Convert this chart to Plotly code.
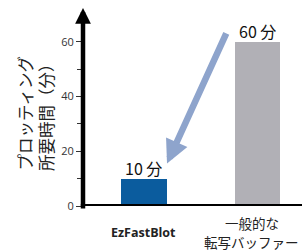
import plotly.graph_objects as go

categories = ["EzFastBlot", "一般的な<br>転写バッファー"]
minutes = [10, 60]
bar_colors = ["#0b5c9e", "#b1b0b6"]
value_unit = "分"
y_title = "プロッティング<br>所要時間（分）"
y_ticks = [0, 20, 40, 60]

FONT = "Open Sans, Noto Sans CJK JP, sans-serif"
JP = "Noto Sans CJK JP, sans-serif"

x_pos = list(range(len(categories)))

fig = go.Figure()
fig.add_trace(go.Bar(
    x=x_pos, y=minutes, width=0.405,
    marker=dict(color=bar_colors, line=dict(width=0)),
    hoverinfo="skip",
))

ann = []
# value labels
for xp, v in zip(x_pos, minutes):
    ann.append(dict(x=xp, y=v, xref="x", yref="y", text=f"{v} {value_unit}",
                    showarrow=False, yanchor="bottom", yshift=-3,
                    font=dict(family=JP, size=16, color="#111111")))
# category labels
shifts = [0, -6]
bolds = [True, False]
for xp, c, s, b in zip(x_pos, categories, shifts, bolds):
    lines = c.split("<br>")
    for i, ln in enumerate(lines):
        if b:
            ann.append(dict(x=xp, y=0, xref="x", yref="y", text=f"<b>{ln}</b>",
                            showarrow=False, yanchor="middle", yshift=-26, xshift=s,
                            font=dict(family=FONT, size=12.5, color="#222222")))
        else:
            ann.append(dict(x=xp, y=0, xref="x", yref="y", text=ln,
                            showarrow=False, yanchor="middle", yshift=-17 - 19 * i, xshift=s,
                            font=dict(family=JP, size=13.5, color="#222222")))
# y axis title
ann.append(dict(x=0, y=0.47, xref="paper", yref="paper", text=y_title, textangle=-90,
                showarrow=False, xanchor="center", yanchor="middle", xshift=-47,
                font=dict(family=JP, size=16.5, color="#222222")))
# y axis arrow
ann.append(dict(x=0, y=1, xref="paper", yref="paper", ax=0, ay=202,
                axref="pixel", ayref="pixel", showarrow=True, text="",
                arrowhead=2, arrowsize=0.7, arrowwidth=4.5, arrowcolor="#000000", standoff=0))
# highlight arrow
ann.append(dict(x=0.203, y=15.5, xref="x", yref="y", ax=0.731, ay=63.6,
                axref="x", ayref="y", showarrow=True, text="",
                arrowhead=2, arrowsize=0.72, arrowwidth=6.5, arrowcolor="#8ea4cc", standoff=0))

fig.update_layout(
    width=302, height=252,
    margin=dict(l=83, r=0, t=8, b=46),
    paper_bgcolor="white", plot_bgcolor="white",
    showlegend=False,
    bargap=0,
    annotations=ann,
    shapes=[dict(type="line", xref="paper", yref="y", x0=-0.01, x1=1, y0=0, y1=0,
                 line=dict(color="#000000", width=4))],
    xaxis=dict(range=[-0.537, 1.392], showticklabels=False, showgrid=False,
               zeroline=False, showline=False, ticks=""),
    yaxis=dict(range=[0, 72.3], tickvals=y_ticks, showgrid=False, zeroline=False,
               showline=False, ticks="outside", ticklen=6, tickwidth=1, tickcolor="#333333",
               tickfont=dict(family=FONT, size=11, color="#333333"),
               minor=dict(tickvals=[10, 30, 50], ticks="outside", ticklen=5,
                          tickwidth=1, tickcolor="#333333")),
)
fig.write_html("out.html", config={"displayModeBar": False},
               post_script="document.body.style.margin='0';document.body.style.overflow='hidden';")
